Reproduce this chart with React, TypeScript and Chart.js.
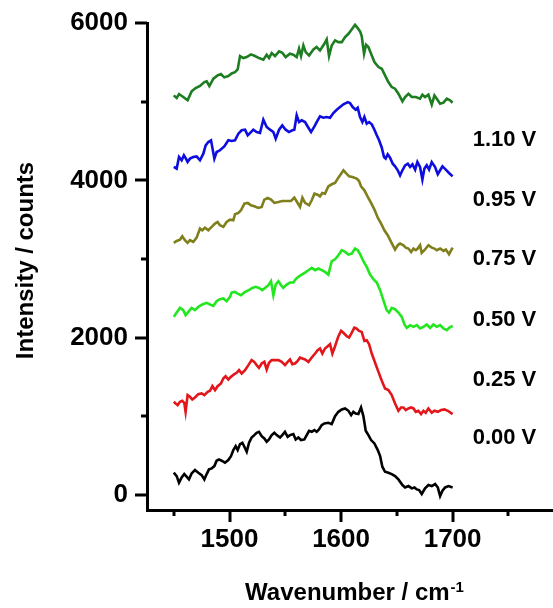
import React, { useEffect, useRef } from 'react';
import { Chart, registerables } from 'chart.js';
Chart.register(...registerables);

// ---- Data (wavenumber / cm-1, intensity / counts) ----
const wn000 = [1450,1452.6,1454.7,1457.1,1459.4,1461.5,1463.6,1466,1469,1472,1475,1477.4,1479.5,1481.6,1484,1486.4,1488.4,1490.5,1492.9,1495.9,1498.9,1501.3,1503.4,1505.5,1507.3,1509.4,1511.5,1513.3,1515.4,1517.5,1519.8,1522.2,1524.3,1526.4,1528.8,1531.2,1533.3,1535.4,1537.8,1540.2,1542.3,1545.3,1547.3,1549.7,1552.1,1554.2,1557.2,1559.3,1561.7,1564.1,1567.1,1569.2,1571.3,1573.7,1576.1,1578.1,1580.2,1582.6,1585,1588.6,1591.6,1594.6,1597.6,1600.6,1603.6,1606.6,1609,1611,1613.1,1615.5,1617.9,1620,1622.1,1624.5,1626.9,1629.9,1632.9,1635,1637,1639.4,1642.4,1645.4,1648.4,1651.4,1655,1657.4,1660.4,1663.4,1665.8,1667.9,1670,1672.3,1675.3,1678.3,1681.3,1684.3,1686.7,1688.8,1690.9,1693.3,1696.3,1700];
const int000 = [284,241,157,224,267,233,199,275,318,284,254,199,267,326,339,368,436,453,436,411,445,495,572,622,572,648,665,614,550,665,732,762,792,804,749,720,677,707,762,792,762,732,762,804,741,762,775,707,732,699,707,762,817,804,826,804,834,889,910,919,902,1003,1058,1088,1101,1071,1016,1058,1037,1029,1113,1003,817,762,699,656,572,495,360,296,284,267,241,199,127,97,114,85,97,72,64,13,85,127,114,140,97,-13,55,97,114,97];

const wn025 = [1450,1451.7,1453.5,1455.6,1457.6,1459.4,1460.6,1462.4,1464.5,1466.6,1469,1472,1475,1477.4,1480.4,1482.5,1484.6,1487,1489.3,1492.3,1494.4,1496.5,1498.9,1501.3,1504.3,1506.4,1508.5,1510.9,1513.9,1516.9,1519.8,1522.2,1524.3,1526.4,1528.8,1531.2,1533.3,1535.4,1537.8,1540.8,1543.8,1546.8,1549.7,1552.1,1554.2,1556.3,1558.7,1561.1,1563.2,1565.3,1567.7,1570.7,1573.7,1576.7,1579,1581.1,1583.2,1585.6,1588,1590.1,1592.2,1594.6,1597.6,1600,1602.1,1605.1,1607.2,1609.5,1611.9,1614,1616.1,1618.5,1620.9,1623,1625.1,1627.5,1630.5,1633.5,1636.5,1639.4,1642.4,1645.4,1648.4,1651.4,1653.8,1655.9,1658,1660.4,1662.8,1664.9,1667,1669.3,1671.7,1673.8,1675.9,1678.3,1681.3,1683.7,1686.7,1689.7,1692.7,1695.7,1700];
const int025 = [1185,1164,1143,1185,1198,1173,1058,1270,1249,1215,1240,1283,1291,1270,1312,1325,1384,1334,1384,1418,1482,1511,1469,1503,1537,1554,1588,1545,1588,1651,1715,1693,1651,1617,1672,1693,1596,1681,1715,1715,1715,1693,1651,1693,1723,1664,1672,1706,1748,1736,1723,1693,1748,1799,1842,1863,1799,1863,1892,1918,1799,1892,2019,2087,2062,2019,2002,2062,2129,2117,2087,2074,1960,1968,1918,1799,1681,1566,1452,1355,1334,1270,1164,1071,1113,1113,1080,1101,1113,1101,1058,1071,1029,1071,1046,1101,1046,1071,1058,1080,1088,1071,1029];

const wn050 = [1450,1452.6,1455.6,1458.5,1460.6,1463.6,1466,1469,1472,1475.6,1479.5,1482.5,1485.5,1488.4,1491.4,1494.4,1497.4,1500.4,1501.9,1504.9,1507.3,1510.3,1513.9,1517.4,1520.4,1523.4,1526.4,1529.4,1531.8,1534.8,1537.2,1539.3,1541.4,1543.8,1546.2,1548.2,1551.2,1554.2,1557.2,1559.3,1561.7,1564.7,1567.7,1570.7,1573.7,1576.7,1579.6,1582.6,1585.6,1588.6,1591.6,1594.6,1597.6,1600.6,1603.6,1606.6,1609.5,1612.5,1614.9,1617.3,1620,1623,1626,1629,1632,1635,1637.9,1640.9,1643,1645.4,1648.4,1651.4,1654.4,1656.8,1658.9,1661.9,1664.9,1667.9,1670.8,1673.8,1676.8,1679.8,1682.8,1685.8,1688.8,1691.8,1694.8,1696.8,1700];
const int050 = [2265,2320,2379,2350,2286,2337,2379,2350,2392,2422,2443,2422,2405,2464,2489,2498,2464,2519,2574,2582,2561,2540,2582,2604,2633,2646,2633,2604,2633,2667,2718,2540,2676,2718,2667,2633,2676,2701,2701,2743,2773,2802,2828,2858,2887,2858,2879,2858,2836,2802,2972,2997,3048,3112,3090,3056,3069,3133,3112,3056,2972,2900,2803,2743,2701,2604,2477,2350,2320,2379,2362,2320,2265,2168,2125,2159,2138,2159,2117,2138,2168,2125,2168,2138,2159,2117,2096,2125,2151];

const wn075 = [1450,1452.6,1455.6,1457.6,1460,1462.4,1464.5,1467.5,1470.5,1473.5,1475.6,1478,1481,1484,1487,1489.3,1491.4,1494.4,1497.4,1500.4,1503.4,1504.9,1507.9,1510.3,1513.3,1516.3,1519.2,1522.2,1525.8,1528.8,1531.2,1534.2,1537.2,1540.2,1543.8,1547.3,1551.2,1555.1,1558.1,1560.5,1563.2,1565.3,1567.7,1571.3,1573.7,1576.1,1579,1581.1,1583.2,1585.6,1588.6,1591.6,1594.6,1597,1599.1,1602.1,1604.2,1607.2,1610.1,1614,1616.1,1617.9,1620.9,1623.9,1626.9,1629.9,1632.9,1635.9,1638.8,1641.8,1644.8,1648.4,1650.8,1652.9,1655.9,1658,1660.4,1662.8,1664.9,1667,1668.7,1670.8,1672.3,1674.7,1678.3,1681.3,1683.7,1685.8,1688.8,1691.8,1693.9,1696.8,1700];
const int075 = [3205,3230,3247,3289,3239,3205,3239,3217,3272,3387,3366,3399,3366,3408,3450,3471,3429,3408,3471,3501,3493,3569,3586,3620,3704,3713,3683,3670,3649,3662,3755,3776,3755,3713,3725,3738,3738,3738,3780,3725,3662,3780,3713,3683,3747,3831,3818,3797,3840,3831,3924,3950,3967,4022,4064,4127,4094,4051,4043,4022,3992,3924,3873,3789,3713,3628,3526,3450,3366,3302,3217,3120,3175,3196,3175,3145,3133,3090,3133,3112,3133,3175,3078,3112,3175,3145,3133,3112,3133,3103,3120,3061,3145];

const wn095 = [1450,1452.6,1454.7,1457.1,1459.1,1460.9,1462.4,1464.5,1467.5,1470.5,1473.5,1476.5,1478.6,1481,1483.4,1486.4,1488.4,1491.4,1495.3,1498.9,1501.9,1504.9,1507.9,1510.9,1513.9,1516.3,1519.2,1521.3,1524.3,1527.3,1530.3,1533.3,1536.3,1539.3,1541.4,1544.4,1547.3,1550.3,1553.3,1556.3,1558.1,1560.2,1562.3,1564.7,1567.7,1570.7,1573.1,1576.1,1579,1581.1,1584.1,1587.1,1590.1,1593.1,1596.1,1599.1,1602.1,1606,1608,1610.4,1613.1,1614.9,1617,1619.1,1620.9,1623,1625.1,1627.5,1629.9,1632,1634.1,1636.5,1638.5,1640,1641.8,1643.9,1646.3,1648.4,1650.8,1652.9,1655,1657.4,1659.8,1661.9,1664,1666.4,1668.4,1670.8,1672.9,1674.7,1676.8,1678.9,1681.3,1684.3,1686.7,1688.8,1690.9,1693.9,1696.8,1700];
const int095 = [4170,4149,4297,4255,4318,4276,4233,4276,4297,4305,4255,4339,4445,4487,4509,4276,4360,4382,4432,4509,4500,4509,4593,4636,4644,4572,4614,4644,4614,4602,4771,4678,4644,4614,4530,4644,4699,4644,4614,4636,4644,4826,4741,4763,4741,4669,4614,4686,4763,4813,4796,4805,4796,4856,4898,4932,4966,4995,4983,4932,4898,4923,4805,4741,4805,4720,4741,4712,4644,4572,4509,4415,4297,4276,4331,4288,4212,4178,4128,4064,4128,4191,4212,4170,4204,4136,4233,4170,4009,4149,4191,4136,4233,4170,4077,4128,4178,4136,4094,4051];

const wn110 = [1450,1452.6,1454.7,1458.5,1462.4,1466,1469.6,1473.5,1477.4,1479.5,1481.9,1485.5,1489.3,1492.3,1495.3,1498.9,1501.9,1504.9,1507.3,1509.4,1512.4,1515.4,1519.2,1522.8,1526.4,1530.3,1533.3,1535.4,1537.8,1540.8,1544.4,1547.3,1550.3,1554.2,1557.2,1560.2,1562.3,1564.1,1566.2,1568.3,1571.3,1575.2,1578.1,1581.1,1585,1587.1,1589.2,1591.6,1594.6,1597.6,1600.6,1603.6,1606.6,1609.5,1612.5,1614.9,1617,1618.5,1620.6,1622.4,1624.5,1626.9,1629.9,1633.5,1636.5,1639.4,1642.4,1645.4,1648.4,1651.4,1655,1657.4,1660.4,1663.4,1667,1670.8,1672.9,1675.3,1678.3,1681.3,1683.7,1685.8,1688.8,1691.8,1694.8,1697.7,1700];
const int110 = [5080,5046,5097,5059,5017,5131,5173,5199,5249,5258,5199,5292,5334,5351,5309,5326,5359,5376,5410,5580,5554,5567,5601,5580,5554,5533,5597,5554,5618,5580,5639,5622,5567,5609,5597,5567,5673,5580,5715,5630,5588,5664,5694,5652,5736,5791,5580,5715,5779,5757,5757,5821,5863,5918,5977,5935,5893,5834,5609,5723,5694,5609,5503,5440,5419,5334,5249,5186,5165,5101,5004,5059,5101,5059,5059,5038,5089,5059,5089,4962,5080,5038,4974,4987,5038,5017,4987];

const seriesLabels = ['0.00 V', '0.25 V', '0.50 V', '0.75 V', '0.95 V', '1.10 V'];
const seriesColors = ['#000000', '#e3161b', '#22e61e', '#7f7f1c', '#0d0de0', '#1f7d21'];
const seriesX = [wn000, wn025, wn050, wn075, wn095, wn110];
const seriesY = [int000, int025, int050, int075, int095, int110];

// Label anchors (in data units) for the voltage annotations on the right
const labelWn = 1718;
const labelIntensity = [724, 1460, 2222, 2997, 3747, 4508];

const xMin = 1426;
const xMax = 1790;
const yMin = -190;
const yMax = 6000;
const xTickValues = [1450, 1500, 1550, 1600, 1650, 1700, 1750];
const yTickValues = [0, 1000, 2000, 3000, 4000, 5000, 6000];

const FONT = '"Liberation Sans", Arial, Helvetica, sans-serif';

const decor = {
  id: 'decor',
  afterDraw(chart: any) {
    const { ctx, chartArea } = chart;
    const xs = chart.scales.x;
    const ys = chart.scales.y;
    ctx.save();
    // tick marks
    ctx.strokeStyle = '#000';
    ctx.lineWidth = 3;
    ctx.lineCap = 'butt';
    xTickValues.forEach((v) => {
      const px = Math.round(xs.getPixelForValue(v));
      const len = v % 100 === 0 ? 12 : 6;
      ctx.beginPath();
      ctx.moveTo(px, chartArea.bottom);
      ctx.lineTo(px, chartArea.bottom + len);
      ctx.stroke();
    });
    yTickValues.forEach((v) => {
      const py = Math.round(ys.getPixelForValue(v));
      const len = v % 2000 === 0 ? 12 : 6;
      ctx.beginPath();
      ctx.moveTo(chartArea.left - len, py);
      ctx.lineTo(chartArea.left, py);
      ctx.stroke();
    });
    // voltage labels
    ctx.fillStyle = '#000';
    ctx.font = `bold 22px ${FONT}`;
    ctx.textAlign = 'left';
    ctx.textBaseline = 'middle';
    const lx = xs.getPixelForValue(labelWn);
    seriesLabels.forEach((t, i) => {
      ctx.fillText(t, lx, ys.getPixelForValue(labelIntensity[i]));
    });
    // y title
    ctx.save();
    ctx.font = `bold 24px ${FONT}`;
    ctx.translate(33, (chartArea.top + chartArea.bottom) / 2 - 6);
    ctx.rotate(-Math.PI / 2);
    ctx.textAlign = 'center';
    ctx.textBaseline = 'alphabetic';
    ctx.fillText('Intensity / counts', 0, 0);
    ctx.restore();
    // x title with superscript
    const main = 'Wavenumber / cm';
    const sup = '-1';
    ctx.font = `bold 24px ${FONT}`;
    const wMain = ctx.measureText(main).width;
    ctx.font = `bold 15px ${FONT}`;
    const wSup = ctx.measureText(sup).width;
    const cx = (chartArea.left + chartArea.right) / 2 + 4;
    const startX = cx - (wMain + wSup) / 2;
    ctx.textAlign = 'left';
    ctx.textBaseline = 'alphabetic';
    ctx.font = `bold 24px ${FONT}`;
    ctx.fillText(main, startX, 600);
    ctx.font = `bold 15px ${FONT}`;
    ctx.fillText(sup, startX + wMain + 1, 592);
    ctx.restore();
  },
};

export default function App() {
  const ref = useRef<HTMLCanvasElement>(null);
  useEffect(() => {
    const datasets = seriesX.map((xs, k) => ({
      label: seriesLabels[k],
      data: xs.map((x, i) => ({ x, y: seriesY[k][i] })).filter((p) => p.y !== undefined),
      borderColor: seriesColors[k],
      backgroundColor: seriesColors[k],
      borderWidth: 2.6,
      pointRadius: 0,
      tension: 0,
      fill: false,
    }));
    const chart = new Chart(ref.current as HTMLCanvasElement, {
      type: 'line',
      data: { datasets },
      options: {
        animation: false,
        responsive: true,
        maintainAspectRatio: false,
        layout: { padding: { top: 23, left: 0, right: 0, bottom: 0 } },
        plugins: { legend: { display: false }, tooltip: { enabled: false } },
        scales: {
          x: {
            type: 'linear',
            min: xMin,
            max: xMax,
            afterFit: (s: any) => {
              s.height = 98;
            },
            afterBuildTicks: (s: any) => {
              s.ticks = xTickValues.map((v) => ({ value: v }));
            },
            ticks: {
              callback: (v: any) => (Number(v) % 100 === 0 ? String(v) : ''),
              font: { family: FONT, size: 26, weight: 'bold' },
              color: '#000',
              padding: 2,
              maxRotation: 0,
              autoSkip: false,
            },
            grid: { drawOnChartArea: false, tickLength: 12, tickColor: 'rgba(0,0,0,0)' },
            border: { display: true, color: '#000', width: 3 },
          },
          y: {
            type: 'linear',
            min: yMin,
            max: yMax,
            afterFit: (s: any) => {
              s.width = 147;
            },
            afterBuildTicks: (s: any) => {
              s.ticks = yTickValues.map((v) => ({ value: v }));
            },
            ticks: {
              callback: (v: any) => (Number(v) % 2000 === 0 ? String(v) : ''),
              font: { family: FONT, size: 26, weight: 'bold' },
              color: '#000',
              padding: 7,
              autoSkip: false,
            },
            grid: { drawOnChartArea: false, tickLength: 12, tickColor: 'rgba(0,0,0,0)' },
            border: { display: true, color: '#000', width: 3 },
          },
        },
      } as any,
      plugins: [decor],
    });
    return () => chart.destroy();
  }, []);
  return (
    <div style={{ position: 'fixed', left: 0, top: 0, width: 553, height: 608, background: '#fff' }}>
      <canvas ref={ref} />
    </div>
  );
}
